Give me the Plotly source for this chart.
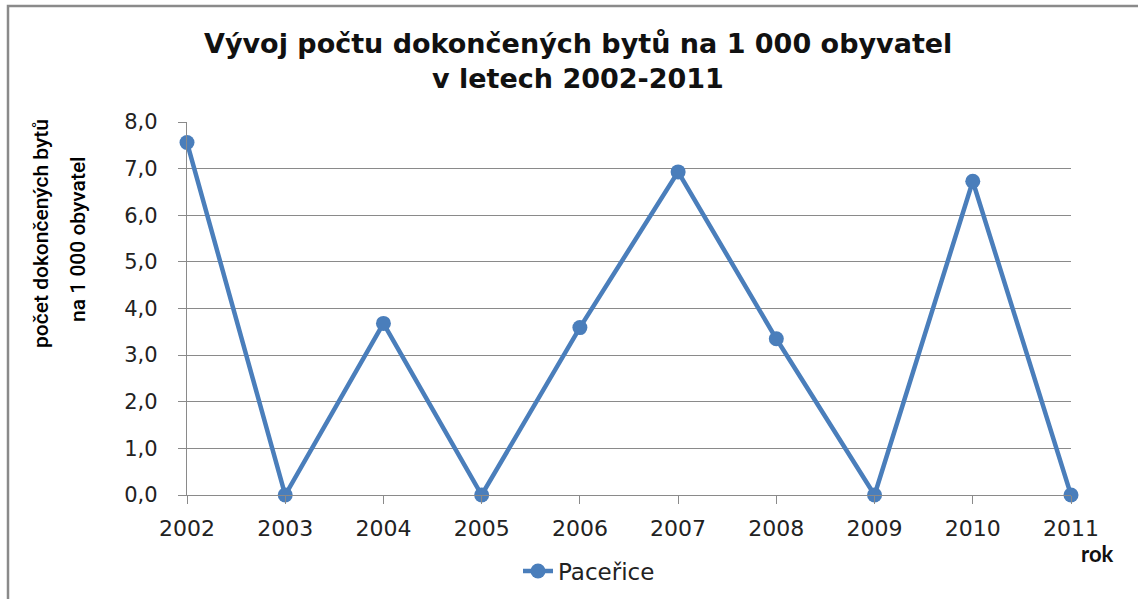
import plotly.graph_objects as go

years = [2002, 2003, 2004, 2005, 2006, 2007, 2008, 2009, 2010, 2011]
year_labels = [str(y) for y in years]
values = [7.56, 0.0, 3.68, 0.0, 3.59, 6.93, 3.35, 0.0, 6.73, 0.0]
series_name = "Paceřice"
y_ticks = [0, 1, 2, 3, 4, 5, 6, 7, 8]
title_lines = ["Vývoj počtu dokončených bytů na 1 000 obyvatel", "v letech 2002-2011"]
y_title_lines = ["počet dokončených bytů", "na 1 000 obyvatel"]

W, H = 1138, 599
L, R, T, B = 187, 67, 122, 104
pw, ph = W - L - R, H - T - B

def px(x):
    return (x - L) / pw

def py(y):
    return (H - B - y) / ph

blue = "#4A7EBB"
grey = "#8A8A8A"

fig = go.Figure()
fig.add_trace(go.Scatter(
    x=years, y=values, mode="lines+markers", name=series_name,
    line=dict(color=blue, width=4.5),
    marker=dict(color=blue, size=15, symbol="circle"),
    cliponaxis=False,
))

fig.update_layout(
    width=W, height=H,
    margin=dict(l=L, r=R, t=T, b=B, autoexpand=False),
    paper_bgcolor="white", plot_bgcolor="white",
    separators=", ",
    showlegend=True,
    legend=dict(orientation="h", x=px(589), xanchor="center", y=py(571), yanchor="middle",
                font=dict(family="DejaVu Sans", size=23, color="#222"),
                bgcolor="rgba(0,0,0,0)"),
)

fig.update_xaxes(
    range=[2002, 2011], tickvals=years, ticktext=year_labels,
    showgrid=False, showline=True, linecolor=grey, linewidth=1.3,
    ticks="outside", ticklen=8, tickcolor=grey, tickwidth=1.3,
    ticklabelstandoff=5,
    tickfont=dict(family="DejaVu Sans", size=22, color="#222"),
    zeroline=False,
)
fig.update_yaxes(
    range=[0, 8], tickvals=y_ticks, tickformat=".1f",
    showgrid=True, gridcolor=grey, gridwidth=1.3,
    showline=True, linecolor=grey, linewidth=1.3,
    ticks="outside", ticklen=8, tickcolor=grey, tickwidth=1.3,
    ticklabelstandoff=16,
    tickfont=dict(family="DejaVu Sans", size=21, color="#222"),
    zeroline=False,
)

for txt, yy in zip(title_lines, [43, 79]):
    fig.add_annotation(text=txt, xref="paper", yref="paper",
                       x=px(578), y=py(yy), xanchor="center", yanchor="middle",
                       showarrow=False,
                       font=dict(family="DejaVu Sans", size=27, color="#111", weight="bold"))

for txt, xx, yy in zip(y_title_lines, [41, 78], [234, 240]):
    fig.add_annotation(text=txt, xref="paper", yref="paper",
                       x=px(xx), y=py(yy), xanchor="center", yanchor="middle",
                       textangle=-90, showarrow=False,
                       font=dict(family="Roboto", size=21, color="#000", weight=500))

fig.add_annotation(text="rok", xref="paper", yref="paper",
                   x=px(1097), y=py(553), xanchor="center", yanchor="middle",
                   showarrow=False,
                   font=dict(family="Lato", size=22, color="#111", weight="bold"))

fig.add_shape(type="rect", xref="paper", yref="paper",
              x0=px(8), x1=px(1150), y0=py(610), y1=py(6),
              line=dict(color=grey, width=2.5), fillcolor="rgba(0,0,0,0)", layer="below")

fig.write_html("out.html", config={"displayModeBar": False},
               post_script="document.body.style.margin='0';")
